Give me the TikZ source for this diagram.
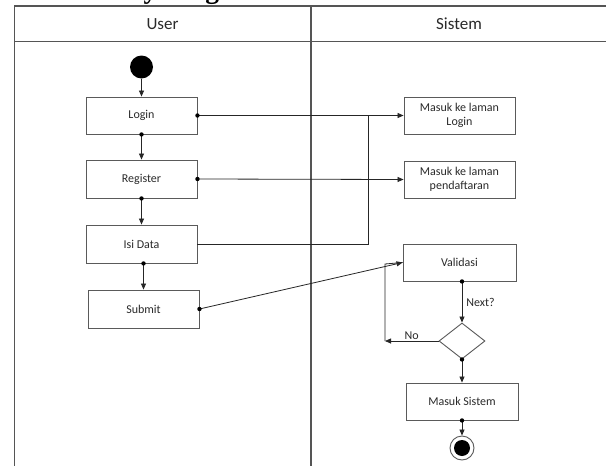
\documentclass[tikz,border=0pt]{standalone}
\usepackage{fontspec}
\setmainfont{Carlito}
\newfontfamily\headingfont{Liberation Serif}
\usetikzlibrary{arrows.meta,shapes.geometric,calc}
\definecolor{laneline}{HTML}{555555}
\definecolor{boxline}{HTML}{5A5A5A}
\definecolor{txt}{HTML}{2A2A2A}
\tikzset{
  act/.style={draw=boxline, line width=0.9pt, fill=white, minimum width=111pt,
    minimum height=37pt, inner sep=0pt, align=center,
    font=\fontsize{12}{14.5}\selectfont, text=txt},
  flow/.style={draw=black!85, line width=0.8pt},
  tip/.style={-{Triangle[length=6pt,width=5pt]}},
  lbl/.style={font=\fontsize{12}{14}\selectfont, text=txt, inner sep=0pt},
  lane/.style={draw=laneline, line width=1.6pt},
  head/.style={font=\fontsize{17}{20}\selectfont, text=txt, inner sep=0pt}
}
\newcommand{\flowdot}[1]{\fill[black] (#1) circle[radius=2.2pt];}
\begin{document}
\begin{tikzpicture}[x=1pt,y=-1pt]
\useasboundingbox (0,0) rectangle (606,466);
\clip (0,0) rectangle (606,466);
\fill[white] (0,0) rectangle (606,466);

% heading, cut by the top edge: only its descenders remain
\node[anchor=south west, inner sep=0pt,
  font=\headingfont\bfseries\fontsize{27.5}{30}\selectfont] (title) at (64,4.5) {Activity Diagram};

% swimlanes
\draw[lane] (620,6) -- (14.5,6) -- (14.5,480);
\draw[lane] (14.5,41.5) -- (620,41.5);
\draw[lane] (311,6) -- (311,480);
\node[head] (hu) at (162.5,24) {User};
\node[head] (hs) at (459,24) {Sistem};

% User lane
\node[circle, fill=black, minimum size=23pt, inner sep=0pt] (start) at (141.5,67) {};
\node[act] (login) at (141.5,115.5) {Login};
\node[act, minimum height=38pt] (register) at (141.5,179) {Register};
\node[act, minimum height=38pt] (isi) at (141.5,244) {Isi Data};
\node[act, minimum height=38pt] (submit) at (143.5,309) {Submit};

% Sistem lane
\node[act] (mlogin) at (459.5,115.5) {Masuk ke laman\\Login};
\node[act] (mdaftar) at (459.5,179.5) {Masuk ke laman\\pendaftaran};
\node[act, minimum width=113pt] (validasi) at (459.5,262.5) {Validasi};
\node[diamond, draw=boxline, line width=0.9pt, fill=white, aspect=1.28,
  minimum width=46pt, minimum height=36pt, inner sep=0pt] (dec) at (462,341) {};
\node[act, minimum width=112pt] (masuk) at (462,401.5) {Masuk Sistem};
\node[circle, draw=boxline, line width=0.9pt, fill=white, minimum size=24pt,
  inner sep=0pt] (stop) at (462,448) {};
\fill[black] (stop.center) circle[radius=8pt];

% flows
\draw[flow,tip] (start) -- (login);
\draw[flow,tip] (login.east) -- (mlogin.west);
\draw[flow,tip] (login.south) -- (register.north);
\draw[flow,tip] (register.east) -- (mdaftar.west);
\draw[flow,tip] (register.south) -- (isi.north);
\coordinate (join) at (368,115.5);
\draw[flow] (isi.east) -- (isi.east -| join) -- (join);
\draw[flow,tip] (isi.south -| submit.north) -- (submit.north);
\draw[flow,tip] (submit.east) -- (validasi.west);
\draw[flow,tip] (validasi.south -| dec.north) -- node[lbl, right=4pt] {Next?} (dec.north);
\coordinate (back) at (385,341);
\draw[flow,tip] (dec.west) -- node[lbl, above=1.5pt] {No} (back);
\draw[flow] (back) -- (385,264) -- (validasi.west);
\draw[flow,tip] (dec.south) -- (masuk.north);
\draw[flow,tip] (masuk.south) -- (stop.north);

% junction dots
\flowdot{login.east}
\flowdot{login.south}
\flowdot{register.east}
\flowdot{register.south}
\flowdot{isi.south -| submit.north}
\flowdot{submit.east}
\flowdot{validasi.south -| dec.north}
\flowdot{dec.south}
\flowdot{masuk.south}
\end{tikzpicture}
\end{document}
